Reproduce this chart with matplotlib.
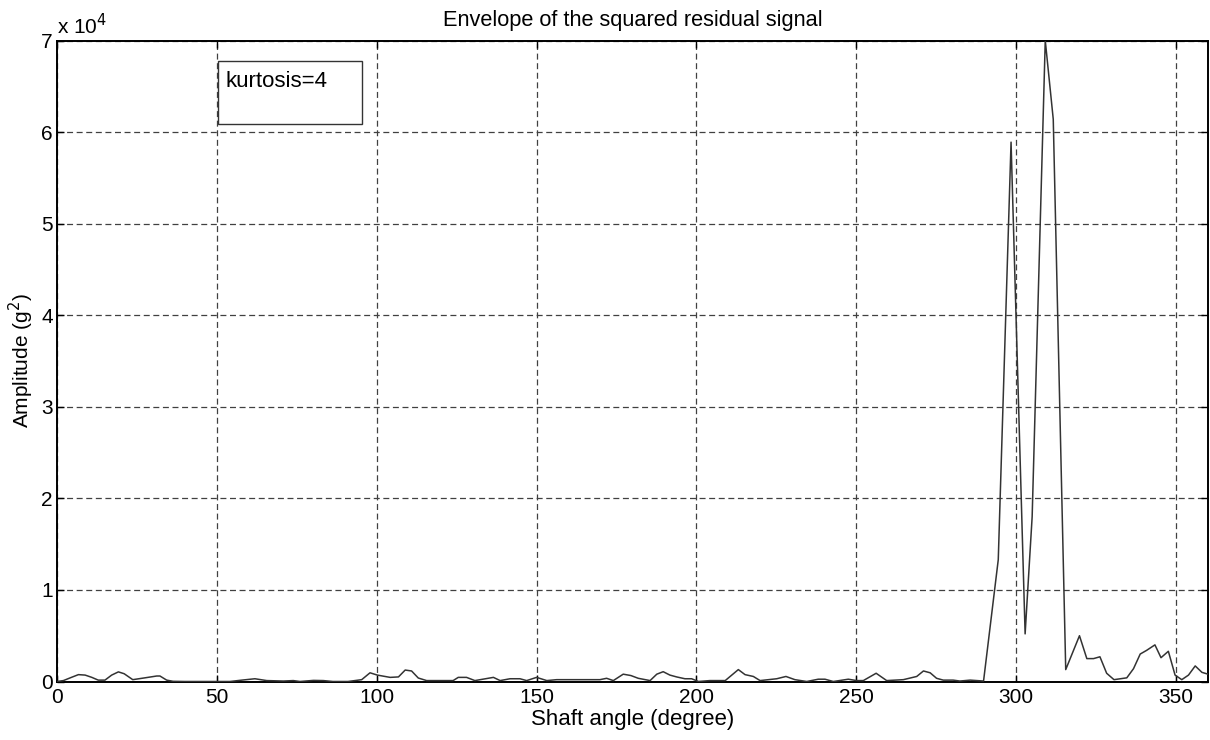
import matplotlib
matplotlib.use("Agg")
import matplotlib.pyplot as plt
from matplotlib.patches import Rectangle

# Vertices of the envelope (shaft angle in degrees, amplitude in g^2)
angle = [0, 2.0, 4.5, 6.7, 8.8, 10.9, 12.9, 15.0, 17.1, 19.2, 21.0, 23.7, 27.5, 31.2, 32.2, 34.3, 36.3,
         40.0, 45.0, 50.0, 54.1, 57.8, 61.9, 65.6, 70.8, 73.9, 76.0, 80.2, 83.3, 86.3, 91.0, 95.3,
         97.9, 100.2, 104.2, 106.8, 108.9, 110.9, 113.0, 115.6, 123.9, 125.5, 128.1, 130.7,
         136.5, 138.6, 141.7, 144.8, 146.9, 150.0, 153.2, 156.3, 169.8, 171.9, 174.0, 177.1,
         179.5, 181.8, 185.5, 187.6, 189.6, 191.7, 193.8, 196.4, 198.5, 200.6, 204.2, 206.3,
         209.0, 213.1, 215.2, 217.8, 219.9, 225.1, 228.0, 230.8, 234.5, 238.1, 240.2, 242.8,
         247.5, 250.1, 252.2, 256.2, 259.5, 264.7, 268.9, 271.0, 273.1, 275.1, 277.2, 280.3,
         282.4, 285.6, 289.8, 294.4, 298.4, 302.8, 305.0, 309.1, 311.6, 315.5, 319.8, 322.1,
         324.2, 326.2, 328.3, 330.6, 334.6, 336.7, 338.8, 340.8, 343.4, 345.3, 347.6, 349.7,
         351.8, 353.9, 356.0, 358.1, 360.0]
amplitude = [0, 100, 450, 750, 700, 450, 150, 150, 700, 1050, 850, 200, 400, 600, 600, 150, 20,
             0, 0, 0, 0, 150, 300, 100, 50, 100, 0, 120, 100, 0, 0, 200,
             950, 700, 450, 500, 1250, 1150, 380, 100, 100, 450, 450, 100,
             450, 100, 300, 300, 100, 450, 100, 200, 200, 350, 100, 800,
             650, 350, 100, 800, 1070, 700, 500, 300, 300, 0, 100, 100,
             100, 1300, 750, 550, 100, 300, 550, 200, 0, 250, 250, 0,
             250, 100, 100, 900, 100, 200, 550, 1150, 950, 350, 150, 150,
             50, 150, 50, 13300, 58900, 5200, 18000, 70000, 61400, 1300, 5000, 2500,
             2500, 2700, 900, 200, 400, 1400, 3000, 3400, 4000, 2600, 3300, 700,
             200, 700, 1700, 1000, 800]

xticks = [0, 50, 100, 150, 200, 250, 300, 350]
yticks = [0, 10000, 20000, 30000, 40000, 50000, 60000, 70000]
yticklabels = ["0", "1", "2", "3", "4", "5", "6", "7"]

plt.rcParams['font.family'] = ['Liberation Sans', 'DejaVu Sans']
plt.rcParams['lines.scale_dashes'] = False

fig = plt.figure(figsize=(12.1, 7.4), dpi=100)
ax = fig.add_axes([57/1210, (740-681.5)/740, 1151/1210, (681.5-40.5)/740])

ax.plot(angle, amplitude, color='#333333', lw=1.1, zorder=3)

ax.set_xlim(0, 360)
ax.set_ylim(0, 70000)
ax.set_xticks(xticks)
ax.set_yticks(yticks)
ax.set_yticklabels(yticklabels)
ax.tick_params(direction='in', top=True, right=True, length=5, width=1,
               labelsize=15)
ax.tick_params(axis='x', pad=5)
ax.tick_params(axis='y', pad=3)

ax.grid(True, color='#404040', lw=0.9, linestyle=(0, (4.3, 2.6)))
for s in ax.spines.values():
    s.set_linewidth(1.4)

ax.set_title("Envelope of the squared residual signal", fontsize=15.7, pad=10.5)
ax.set_xlabel("Shaft angle (degree)", fontsize=16, labelpad=1)
ax.set_ylabel("Amplitude (g$^2$)", fontsize=15, labelpad=4)
ax.text(0.0, 1.003, "x 10$^4$", transform=ax.transAxes, fontsize=15,
        ha='left', va='bottom')

ax.add_patch(Rectangle((0.1399, 0.870), 0.265 - 0.1399, 0.968 - 0.870,
                       transform=ax.transAxes, fc='white', ec='#333333',
                       lw=1, zorder=4))
ax.text(0.1468, 0.952, "kurtosis=4", transform=ax.transAxes, fontsize=16,
        ha='left', va='top', zorder=5)

fig.savefig("out.png", dpi=100)
